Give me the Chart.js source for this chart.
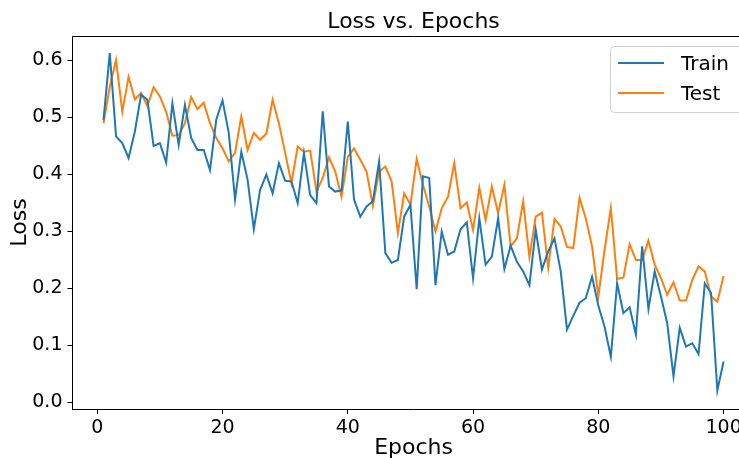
<!DOCTYPE html>
<html>
<head>
<meta charset="utf-8">
<script src="https://cdn.jsdelivr.net/npm/chart.js@4.4.1/dist/chart.umd.min.js"></script>
<style>
    html, body { margin: 0; padding: 0; background: #fff; overflow: hidden; }
    #wrap { width: 739px; height: 458px; overflow: hidden; }
</style>
</head>
<body>
<div id="wrap"><canvas id="lossChart" width="770" height="458"></canvas></div>
<script>
// epochs 1..100
const epochs = Array.from({ length: 100 }, (_, i) => i + 1);

const trainLoss = [
    0.496, 0.613, 0.467, 0.455, 0.429, 0.475, 0.540, 0.531, 0.450, 0.455,
    0.421, 0.525, 0.452, 0.522, 0.464, 0.443, 0.443, 0.408, 0.496, 0.530,
    0.473, 0.356, 0.440, 0.391, 0.304, 0.373, 0.400, 0.367, 0.420, 0.389,
    0.388, 0.350, 0.438, 0.364, 0.350, 0.511, 0.379, 0.370, 0.372, 0.493,
    0.356, 0.326, 0.344, 0.353, 0.423, 0.262, 0.245, 0.250, 0.326, 0.347,
    0.199, 0.397, 0.394, 0.206, 0.300, 0.259, 0.265, 0.304, 0.316, 0.218,
    0.323, 0.242, 0.256, 0.323, 0.234, 0.275, 0.247, 0.230, 0.206, 0.303,
    0.233, 0.265, 0.288, 0.230, 0.128, 0.152, 0.175, 0.183, 0.221, 0.170,
    0.133, 0.080, 0.209, 0.157, 0.167, 0.119, 0.274, 0.164, 0.230, 0.186,
    0.139, 0.046, 0.131, 0.098, 0.104, 0.085, 0.209, 0.192, 0.021, 0.072
];

const testLoss = [
    0.490, 0.554, 0.601, 0.510, 0.571, 0.532, 0.543, 0.520, 0.553, 0.537,
    0.510, 0.468, 0.469, 0.490, 0.536, 0.515, 0.526, 0.490, 0.464, 0.446,
    0.423, 0.438, 0.502, 0.443, 0.473, 0.461, 0.472, 0.531, 0.490, 0.438,
    0.385, 0.449, 0.440, 0.442, 0.370, 0.394, 0.430, 0.405, 0.361, 0.431,
    0.446, 0.426, 0.405, 0.345, 0.405, 0.414, 0.388, 0.297, 0.367, 0.347,
    0.427, 0.382, 0.344, 0.300, 0.341, 0.361, 0.420, 0.341, 0.351, 0.303,
    0.377, 0.320, 0.379, 0.332, 0.382, 0.274, 0.288, 0.353, 0.255, 0.326,
    0.333, 0.236, 0.322, 0.309, 0.273, 0.271, 0.359, 0.323, 0.274, 0.186,
    0.268, 0.341, 0.217, 0.219, 0.278, 0.250, 0.250, 0.284, 0.242, 0.218,
    0.189, 0.211, 0.179, 0.179, 0.215, 0.239, 0.230, 0.186, 0.177, 0.222
];

const xTicks = [0, 20, 40, 60, 80, 100];
const yTicks = [0.0, 0.1, 0.2, 0.3, 0.4, 0.5, 0.6];

const FONT = "'DejaVu Sans', sans-serif";
Chart.defaults.color = '#000';
Chart.defaults.font.family = FONT;

// title, top/right spines and the legend box drawn like matplotlib
const mplDecor = {
    id: 'mplDecor',
    afterDraw(chart) {
        const { ctx, chartArea: a } = chart;
        ctx.save();
        ctx.strokeStyle = '#000';
        ctx.lineWidth = 1;
        ctx.beginPath();
        ctx.moveTo(a.left, a.top + 0.5);
        ctx.lineTo(a.right, a.top + 0.5);
        ctx.moveTo(a.right - 0.5, a.top);
        ctx.lineTo(a.right - 0.5, a.bottom);
        ctx.stroke();

        // title centred over the axes
        ctx.fillStyle = '#000';
        ctx.font = `22px ${FONT}`;
        ctx.textAlign = 'center';
        ctx.textBaseline = 'alphabetic';
        ctx.fillText('Loss vs. Epochs', (a.left + a.right) / 2, 28);

        // legend
        const bx = 610.5, by = 46.5, bw = 140, bh = 66;
        ctx.beginPath();
        ctx.roundRect(bx, by, bw, bh, 4);
        ctx.fillStyle = 'rgba(255,255,255,0.8)';
        ctx.fill();
        ctx.strokeStyle = '#d0d0d0';
        ctx.stroke();

        const items = chart.data.datasets;
        const rows = [63, 93];
        items.forEach((ds, i) => {
            ctx.strokeStyle = ds.borderColor;
            ctx.lineWidth = 2;
            ctx.beginPath();
            ctx.moveTo(618, rows[i]);
            ctx.lineTo(664, rows[i]);
            ctx.stroke();
            ctx.fillStyle = '#000';
            ctx.font = `20px ${FONT}`;
            ctx.textAlign = 'left';
            ctx.fillText(ds.label, 681, rows[i] + 7);
        });
        ctx.restore();
    }
};

new Chart(document.getElementById('lossChart'), {
    type: 'line',
    data: {
        datasets: [
            {
                label: 'Train',
                data: epochs.map((e, i) => ({ x: e, y: trainLoss[i] })),
                borderColor: '#1f77b4',
                borderWidth: 2,
                pointRadius: 0,
                tension: 0,
                fill: false,
            },
            {
                label: 'Test',
                data: epochs.map((e, i) => ({ x: e, y: testLoss[i] })),
                borderColor: '#ff7f0e',
                borderWidth: 2,
                pointRadius: 0,
                tension: 0,
                fill: false,
            },
        ],
    },
    options: {
        responsive: false,
        animation: false,
        layout: { padding: { left: 0, right: 15.4, top: 36, bottom: 0 } },
        plugins: {
            legend: { display: false },
            title: { display: false },
            tooltip: { enabled: false },
        },
        scales: {
            x: {
                type: 'linear',
                min: -3.95,
                max: 104.95,
                afterBuildTicks: (scale) => { scale.ticks = xTicks.map((v) => ({ value: v })); },
                afterFit: (scale) => { scale.height = 49; },
                ticks: {
                    font: { size: 19 },
                    padding: 3,
                    maxRotation: 0,
                    callback: (v) => String(v),
                },
                grid: { drawOnChartArea: false, drawTicks: true, tickLength: 5, tickColor: '#000' },
                border: { display: true, color: '#000', width: 1 },
                title: { display: true, text: 'Epochs', font: { size: 22 }, padding: { top: 0, bottom: -3 } },
            },
            y: {
                min: -0.0114,
                max: 0.643,
                afterBuildTicks: (scale) => { scale.ticks = yTicks.map((v) => ({ value: v })); },
                afterFit: (scale) => { scale.width = 72.5; },
                ticks: {
                    font: { size: 19 },
                    padding: 5,
                    callback: (v) => v.toFixed(1),
                },
                grid: { drawOnChartArea: false, drawTicks: true, tickLength: 5, tickColor: '#000' },
                border: { display: true, color: '#000', width: 1 },
                title: { display: true, text: 'Loss', font: { size: 22 }, padding: { top: 7, bottom: 0 } },
            },
        },
    },
    plugins: [mplDecor],
});
</script>
</body>
</html>
